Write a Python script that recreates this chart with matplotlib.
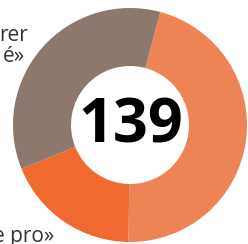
import matplotlib
matplotlib.use("Agg")
import matplotlib.pyplot as plt

# donut values (total shown in the middle)
labels = ["light", "dark", "brown"]
values = [64, 26, 49]
colors = ["#EE8456", "#F06A30", "#8C786D"]
total = sum(values)

plt.rcParams['font.family'] = ['Open Sans', 'DejaVu Sans']

fig = plt.figure(figsize=(2.48, 2.44), dpi=100)
ax = fig.add_axes([0, 0, 1, 1])

ax.pie(values, colors=colors, startangle=75, counterclock=False,
       center=(130, 119), radius=117,
       wedgeprops=dict(width=58, linewidth=0))
ax.set_xlim(0, 248)
ax.set_ylim(0, 244)
ax.set_aspect('equal')
ax.axis('off')

ax.text(131, 117, str(total), ha='center', va='center',
        fontsize=44, fontweight='bold', color='#000000')

# labels cut by the frame
ax.text(28, 203, "rer", ha='right', va='baseline', fontsize=15, color='#333333')
ax.text(25, 182, "é»", ha='right', va='baseline', fontsize=15, color='#333333')
ax.text(54, 2, "e pro»", ha='right', va='baseline', fontsize=15, color='#333333')

fig.savefig("out.png", dpi=100)
